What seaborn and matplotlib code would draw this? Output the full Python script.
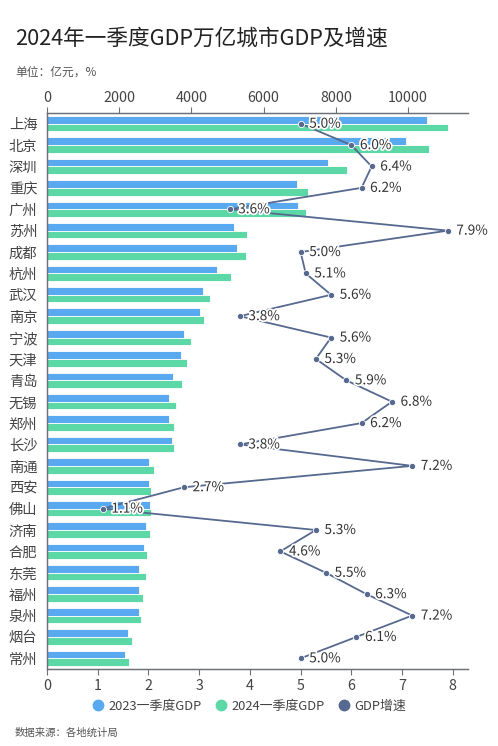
import numpy as np
import pandas as pd
import matplotlib
matplotlib.use("Agg")
import matplotlib.pyplot as plt
import matplotlib.patheffects as pe
from matplotlib.lines import Line2D
import seaborn as sns

cities = ['上海', '北京', '深圳', '重庆', '广州', '苏州', '成都', '杭州', '武汉', '南京',
          '宁波', '天津', '青岛', '无锡', '郑州', '长沙', '南通', '西安', '佛山', '济南',
          '合肥', '东莞', '福州', '泉州', '烟台', '常州']
gdp_2023 = [10536, 9947, 7770, 6925, 6961, 5180, 5254, 4718, 4312, 4230,
            3795, 3712, 3499, 3388, 3380, 3463, 2817, 2825, 2862, 2742,
            2678, 2540, 2557, 2540, 2235, 2170]
gdp_2024 = [11098, 10583, 8310, 7230, 7160, 5540, 5513, 5106, 4524, 4349,
            3989, 3878, 3740, 3573, 3527, 3509, 2973, 2881, 2872, 2844,
            2761, 2742, 2668, 2604, 2363, 2262]
growth = [5.0, 6.0, 6.4, 6.2, 3.6, 7.9, 5.0, 5.1, 5.6, 3.8,
          5.6, 5.3, 5.9, 6.8, 6.2, 3.8, 7.2, 2.7, 1.1, 5.3,
          4.6, 5.5, 6.3, 7.2, 6.1, 5.0]

series_names = ['2023一季度GDP', '2024一季度GDP', 'GDP增速']
colors = {'2023一季度GDP': '#58a9f0', '2024一季度GDP': '#5bd8a6', 'GDP增速': '#56698f'}

df = pd.DataFrame({'城市': cities, series_names[0]: gdp_2023, series_names[1]: gdp_2024})
long_df = df.melt(id_vars='城市', var_name='系列', value_name='GDP')

sns.set_theme(style='white')
plt.rcParams['font.family'] = ['Noto Sans CJK SC', 'DejaVu Sans']
axis_color = '#6e7079'
text_color = '#444444'

fig = plt.figure(figsize=(4.98, 7.46), dpi=100)
ax = fig.add_axes([0.0944, 0.1032, 0.8454, 0.7453])

sns.barplot(data=long_df, x='GDP', y='城市', hue='系列', order=cities,
            hue_order=series_names[:2], palette=colors, width=0.72, saturation=1,
            edgecolor='white', linewidth=0.6, orient='h', legend=False, ax=ax)

# growth line on a second x-axis at the bottom
ax2 = ax.twiny()
ax.xaxis.tick_top()
ax2.xaxis.tick_bottom()

ax.set_xlim(0, 11660)
ax.set_ylim(len(cities) - 0.5, -0.5)
ax.set_xticks([0, 2000, 4000, 6000, 8000, 10000])
ax.set_xlabel('')
ax.set_ylabel('')

ax2.plot(growth, np.arange(len(cities)), color=colors['GDP增速'], lw=1.3,
         marker='o', markersize=4.5, markeredgecolor='white', markeredgewidth=0.6,
         zorder=5)
for i, g in enumerate(growth):
    ax2.text(g + 0.17, i, f'{g:.1f}%', va='center', ha='left', fontsize=9.8,
             color='#333333', zorder=6,
             path_effects=[pe.withStroke(linewidth=2.5, foreground='white')])
ax2.set_xlim(0, 8.3)
ax2.set_ylim(len(cities) - 0.5, -0.5)
ax2.set_xticks(range(0, 9))

for a in (ax, ax2):
    for s in a.spines.values():
        s.set_color(axis_color)
        s.set_linewidth(0.9)
    a.spines['right'].set_visible(False)
    a.tick_params(colors=axis_color, labelcolor=text_color, length=4, width=0.8,
                  labelsize=10.3, direction='out')
ax.tick_params(axis='y', labelsize=10.3, pad=3)
ax.tick_params(axis='x', pad=2)
ax2.tick_params(axis='x', pad=3)

fig.text(0.03, 0.948, '2024年一季度GDP万亿城市GDP及增速', fontsize=15.6,
         color='#222222', va='center', ha='left')
fig.text(0.03, 0.903, '单位：亿元，%', fontsize=8.5, color='#555555', va='center', ha='left')
fig.text(0.03, 0.0174, '数据来源：各地统计局', fontsize=7.5, color='#555555', va='center', ha='left')

handles = [Line2D([0], [0], marker='o', lw=0, markersize=7.5, color=colors[n]) for n in series_names]
fig.legend(handles, series_names, loc='center', bbox_to_anchor=(0.5, 0.0536), ncol=3,
           frameon=False, fontsize=9.3, handlelength=1.0, handletextpad=0.3,
           columnspacing=1.0, labelcolor=text_color)

fig.savefig('out.png', dpi=100)
